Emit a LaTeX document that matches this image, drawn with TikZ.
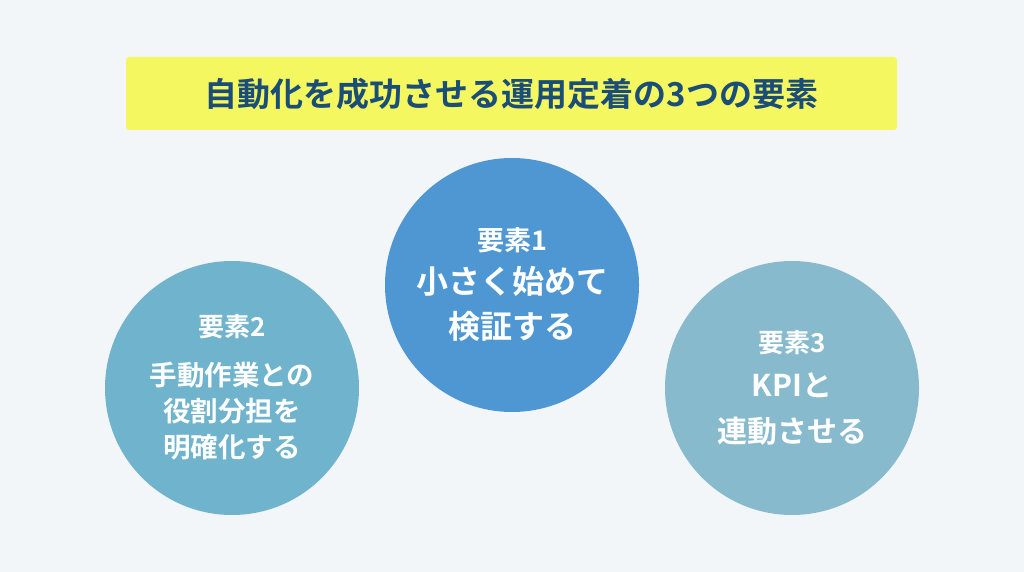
\documentclass[tikz,border=0pt]{standalone}
\usepackage{fontspec}
\newfontfamily\cjk{Noto Sans CJK JP}[BoldFont={Noto Sans CJK JP Bold}]
\definecolor{bgcol}{HTML}{F3F6F9}
\definecolor{titlecol}{HTML}{F4F760}
\definecolor{titletext}{HTML}{1A4D78}
\definecolor{oneblue}{HTML}{4F97D3}
\definecolor{twoblue}{HTML}{6FB3CC}
\definecolor{threeblue}{HTML}{88BACD}
\begin{document}
\begin{tikzpicture}[x=1pt,y=-1pt,
    elem/.style = {circle, minimum size=254pt, inner sep=0pt},
    txt/.style = {text=white, font=\cjk\bfseries, anchor=center}]
        \fill[bgcol] (0,0) rectangle (1024,572);
        \useasboundingbox (0,0) rectangle (1024,572);
        \fill[titlecol, rounded corners=3pt] (126,57) rectangle (897,130);
        \node[text=titletext, font=\cjk\bfseries\fontsize{33}{36}\selectfont] (title) at (511.5,94) {自動化を成功させる運用定着の3つの要素};
        \node[elem, fill=oneblue] (e1) at (512,285) {};
        \node[elem, fill=twoblue] (e2) at (232,388) {};
        \node[elem, fill=threeblue] (e3) at (792,388) {};
        % element 1
        \node[txt, font=\cjk\bfseries\fontsize{27}{30}\selectfont] (e1h) at (512,240) {要素1};
        \node[txt, font=\cjk\bfseries\fontsize{32}{36}\selectfont] (e1a) at (512,281) {小さく始めて};
        \node[txt, font=\cjk\bfseries\fontsize{32}{36}\selectfont] (e1b) at (512,326) {検証する};
        % element 2
        \node[txt, font=\cjk\bfseries\fontsize{26}{30}\selectfont] (e2h) at (232,327) {要素2};
        \node[txt, font=\cjk\bfseries\fontsize{27.5}{30}\selectfont] (e2a) at (232,375) {手動作業との};
        \node[txt, font=\cjk\bfseries\fontsize{27.5}{30}\selectfont] (e2b) at (232,411) {役割分担を};
        \node[txt, font=\cjk\bfseries\fontsize{27.5}{30}\selectfont] (e2c) at (232,447) {明確化する};
        % element 3
        \node[txt, font=\cjk\bfseries\fontsize{26}{30}\selectfont] (e3h) at (792,343) {要素3};
        \node[txt, font=\cjk\bfseries\fontsize{30}{34}\selectfont] (e3a) at (792,385) {KPIと};
        \node[txt, font=\cjk\bfseries\fontsize{30}{34}\selectfont] (e3b) at (792,431) {連動させる};
\end{tikzpicture}
\end{document}
